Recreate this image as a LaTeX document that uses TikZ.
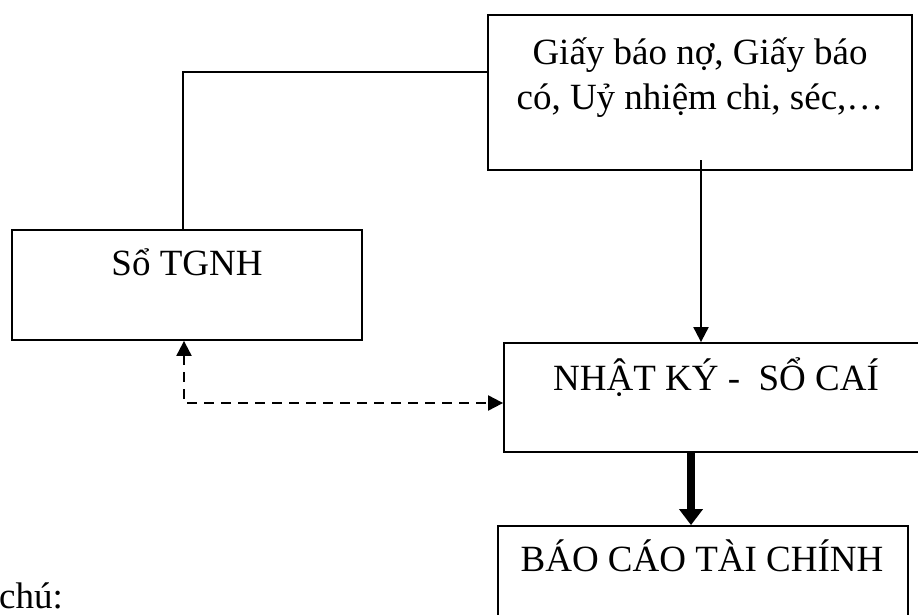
\documentclass[tikz,border=0pt]{standalone}
\usepackage{fontspec}
\setmainfont{Liberation Serif}
\usetikzlibrary{arrows.meta}
\begin{document}
\begin{tikzpicture}[x=1pt,y=-1pt,
  box/.style={draw=black,line width=1.8pt,rectangle,inner sep=0pt,fill=none},
  lbl/.style={anchor=base,inner sep=0pt,font=\fontsize{37}{45}\selectfont},
  conn/.style={draw=black,line width=2pt},
  tip/.style={-{Triangle[width=15pt,length=15pt]}},
  dtip/.style={{Triangle[width=15pt,length=15pt]}-{Triangle[width=15pt,length=15pt]}},
  dashline/.style={dash pattern=on 10pt off 7pt},
  thick arrow/.style={draw=black,line width=7.5pt,-{Triangle[width=23pt,length=16pt]}}]
\useasboundingbox (0,0) rectangle (918,615);
\fill[white] (0,0) rectangle (918,615);
% boxes
\node[box,minimum width=424pt,minimum height=155pt] (top) at (700,92.5) {};
\node[box,minimum width=350pt,minimum height=110pt] (sotg) at (187,285) {};
\node[box,minimum width=426pt,minimum height=109pt] (nk) at (717,397.5) {};
\node[box,minimum width=410pt,minimum height=110pt] (bc) at (703,581) {};
% texts
\node[lbl] (t1) at (700,65) {Giấy báo nợ, Giấy báo};
\node[lbl] (t2) at (700,110) {có, Uỷ nhiệm chi, séc,…};
\node[lbl] (t3) at (187,275) {Sổ TGNH};
\node[lbl] (t4) at (716,390) {NHẬT KÝ -\ \ SỔ CAÍ};
\node[lbl] (t5) at (702,571) {BÁO CÁO TÀI CHÍNH};
\node[lbl,anchor=base west] (t6) at (-1,608) {chú:};
% connectors
\coordinate (c1) at (183,72);
\draw[conn] (top.west |- c1) -- (c1) -- (c1 |- sotg.north);
\coordinate (a1) at (701,160);
\draw[conn,tip] (a1) -- (a1 |- nk.north);
\coordinate (d1) at (184,403);
\draw[conn,dashline,dtip] (d1 |- sotg.south) -- (d1) -- (d1 -| nk.west);
\coordinate (k1) at (691,452);
\draw[thick arrow] (k1 |- nk.south) -- (k1 |- bc.north);
\end{tikzpicture}
\end{document}
